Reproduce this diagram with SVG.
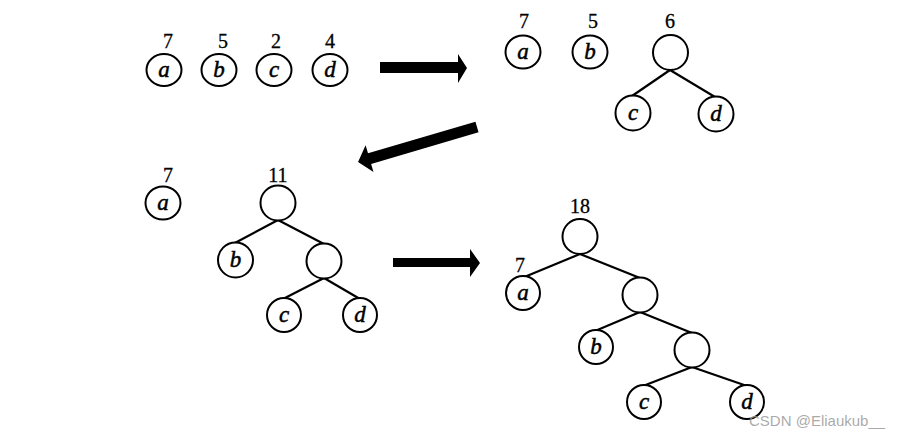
<svg xmlns="http://www.w3.org/2000/svg" width="901" height="435" viewBox="0 0 901 435">
<style>
.n{fill:#fff;stroke:#000;stroke-width:2}
.e line{stroke:#000;stroke-width:2.2}
.lt{font-family:"Liberation Serif",serif;font-style:italic;font-size:23px;text-anchor:middle;fill:#000;stroke:#000;stroke-width:0.5}
.w{font-family:"Liberation Serif",serif;font-size:20px;text-anchor:middle;fill:#000;stroke:#000;stroke-width:0.3}
.ar{fill:#000}
</style>
<rect width="901" height="435" fill="#fff"/>
<g id="connectors" class="e">
<line x1="670" y1="70" x2="632" y2="96"/>
<line x1="670" y1="70" x2="715" y2="97"/>
<line x1="278" y1="220" x2="233" y2="244"/>
<line x1="278" y1="220" x2="324" y2="244"/>
<line x1="324" y1="278" x2="283" y2="299"/>
<line x1="324" y1="278" x2="360" y2="299"/>
<line x1="580" y1="254" x2="522" y2="278"/>
<line x1="580" y1="254" x2="640" y2="278"/>
<line x1="640" y1="312" x2="595" y2="331"/>
<line x1="640" y1="312" x2="692" y2="333"/>
<line x1="692" y1="367" x2="643" y2="386"/>
<line x1="692" y1="367" x2="747" y2="386"/>
</g>
<g id="arrows">
<polygon class="ar" points="380,62 458,62 458,54 467,68 458,83 458,73 380,73"/>
<polygon class="ar" transform="translate(477,127) rotate(163.6)" points="0,-5.5 112,-5.5 112,-14 124,0 112,14 112,5.5 0,5.5"/>
<polygon class="ar" points="393,258 470,258 470,249 480,263 470,277 470,267 393,267"/>
</g>
<!-- stage 1 -->
<g id="s1a"><ellipse class="n" cx="164" cy="70" rx="17.5" ry="16"/><text class="lt" x="164" y="77">a</text><text class="w" x="168" y="48">7</text></g>
<g id="s1b"><ellipse class="n" cx="219" cy="70" rx="17.5" ry="16"/><text class="lt" x="219" y="77">b</text><text class="w" x="223" y="48">5</text></g>
<g id="s1c"><ellipse class="n" cx="274" cy="70" rx="17.5" ry="16"/><text class="lt" x="274" y="77">c</text><text class="w" x="276" y="48">2</text></g>
<g id="s1d"><ellipse class="n" cx="330" cy="70" rx="17.5" ry="16"/><text class="lt" x="330" y="77">d</text><text class="w" x="330" y="48">4</text></g>
<!-- stage 2 -->
<g id="s2a"><ellipse class="n" cx="523" cy="52" rx="17.5" ry="16.5"/><text class="lt" x="523" y="59">a</text><text class="w" x="524" y="28">7</text></g>
<g id="s2b"><ellipse class="n" cx="590" cy="52" rx="17.5" ry="16.5"/><text class="lt" x="590" y="59">b</text><text class="w" x="593" y="28">5</text></g>
<g id="s2r"><circle class="n" cx="670.5" cy="52.5" r="17.5"/><text class="w" x="670" y="28">6</text></g>
<g id="s2c"><circle class="n" cx="633" cy="113" r="17.5"/><text class="lt" x="633" y="120">c</text></g>
<g id="s2d"><circle class="n" cx="716" cy="114" r="17.5"/><text class="lt" x="716" y="121">d</text></g>
<!-- stage 3 -->
<g id="s3a"><ellipse class="n" cx="163" cy="203" rx="17.5" ry="16.5"/><text class="lt" x="163" y="210">a</text><text class="w" x="168" y="182">7</text></g>
<g id="s3r"><circle class="n" cx="278" cy="203" r="17.5"/><text class="w" x="278" y="182">11</text></g>
<g id="s3b"><circle class="n" cx="235.5" cy="260" r="17.5"/><text class="lt" x="235.5" y="267">b</text></g>
<g id="s3i"><circle class="n" cx="324" cy="261" r="17.5"/></g>
<g id="s3c"><circle class="n" cx="284" cy="315" r="17"/><text class="lt" x="284" y="322">c</text></g>
<g id="s3d"><circle class="n" cx="360" cy="315" r="17"/><text class="lt" x="360" y="322">d</text></g>
<!-- stage 4 -->
<g id="s4r"><circle class="n" cx="580" cy="236.5" r="17.5"/><text class="w" x="580" y="213">18</text></g>
<g id="s4a"><circle class="n" cx="523" cy="293" r="17"/><text class="lt" x="523" y="300">a</text><text class="w" x="520" y="272">7</text></g>
<g id="s4i1"><circle class="n" cx="640" cy="295" r="17.5"/></g>
<g id="s4b"><circle class="n" cx="596" cy="347" r="17"/><text class="lt" x="596" y="354">b</text></g>
<g id="s4i2"><circle class="n" cx="692" cy="350" r="17.5"/></g>
<g id="s4c"><circle class="n" cx="644" cy="402" r="17"/><text class="lt" x="644" y="409">c</text></g>
<g id="s4d"><circle class="n" cx="747" cy="402" r="17"/><text class="lt" x="747" y="409">d</text></g>
<text x="749" y="426" font-family="Liberation Sans, Arial, sans-serif" font-size="15" fill="#9a9a9a" fill-opacity="0.85">CSDN @Eliaukub__</text>
</svg>
